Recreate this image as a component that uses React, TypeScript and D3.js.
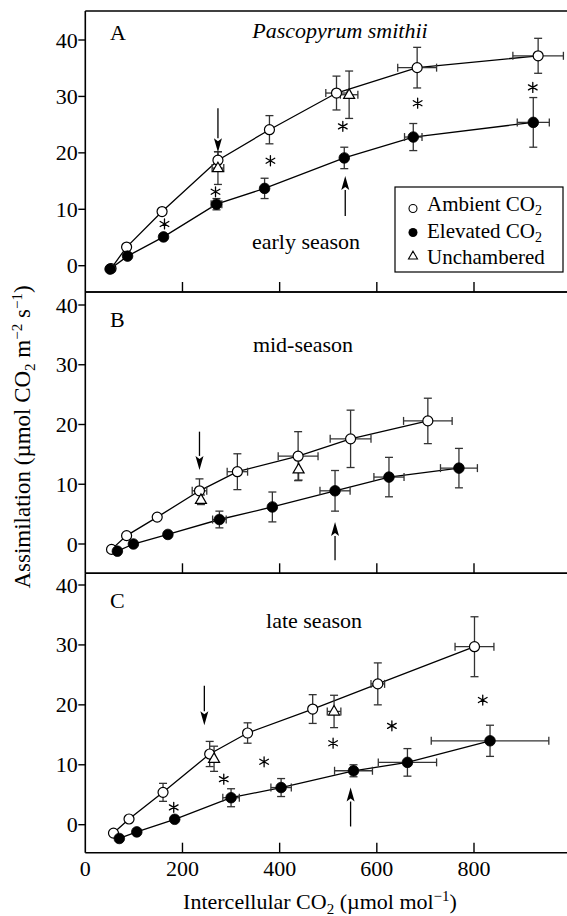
import React from 'react';
import * as d3 from 'd3';

// ---------- data (Ci µmol/mol, A µmol m-2 s-1, sdA, sdCi) ----------
const xTicks = [0, 200, 400, 600, 800];
const yTicks = [0, 10, 20, 30, 40];

const ambientA = [
  [53, -0.5, 0, 0], [85, 3.3, 0, 0], [158, 9.6, 0, 0], [273, 18.7, 1.5, 0],
  [379, 24.1, 2.5, 0], [517, 30.6, 3, 22], [683, 35.1, 3.6, 40], [932, 37.2, 3.1, 52],
];
const elevatedA = [
  [51, -0.6, 0, 0], [87, 1.7, 0, 0], [161, 5.1, 0, 0], [270, 10.9, 1, 11],
  [369, 13.7, 1.8, 0], [533, 19.1, 1.9, 0], [675, 22.8, 2.4, 18], [922, 25.4, 4.4, 33],
];
const unchamberedA = [[273, 17.3, 2.9, 12], [543, 30.3, 4.2, 18]];
const starsA = [[163, 7.4], [268, 13.1], [381, 18.6], [530, 24.7], [684, 28.8], [921, 31.6]];
const arrowsA = [[273, 27.9, 20.1], [535, 8.8, 15.9]];

const ambientB = [
  [54, -0.9, 0, 0], [85, 1.4, 0, 0], [148, 4.5, 0, 0], [235, 8.9, 2, 15],
  [313, 12.1, 3, 21], [438, 14.7, 4.1, 41], [546, 17.6, 4.8, 42], [705, 20.6, 3.8, 50],
];
const elevatedB = [
  [66, -1.2, 0, 0], [99, 0, 0, 0], [170, 1.6, 0, 0], [276, 4.1, 1.4, 14],
  [385, 6.2, 2.5, 0], [514, 8.9, 3.4, 31], [625, 11.2, 3.3, 31], [769, 12.7, 3.3, 38],
];
const unchamberedB = [[238, 7.4, 0.8, 0], [439, 12.5, 1.8, 0]];
const starsB: number[][] = [];
const arrowsB = [[235, 18.8, 12.4], [514, -2.7, 3.7]];

const ambientC = [
  [58, -1.4, 0, 0], [90, 0.95, 0, 0], [160, 5.4, 1.5, 0], [256, 11.8, 2.1, 0],
  [334, 15.3, 1.7, 0], [468, 19.3, 2.4, 0], [602, 23.5, 3.5, 14], [801, 29.7, 5, 40],
];
const elevatedC = [
  [70, -2.3, 0, 0], [106, -1.2, 0, 0], [184, 0.9, 0, 0], [300, 4.5, 1.5, 17],
  [403, 6.2, 1.5, 21], [552, 9.0, 1, 39], [663, 10.4, 2.3, 60], [833, 14.0, 2.6, 121],
];
const unchamberedC = [[265, 11.0, 2.1, 0], [512, 18.9, 2.7, 14]];
const starsC = [[182, 2.9], [285, 7.6], [368, 10.5], [510, 13.6], [631, 16.5], [818, 20.8]];
const arrowsC = [[245, 23.2, 16.6], [546, -0.3, 6.2]];

// ---------- layout ----------
const W = 567;
const H = 916;
const FONT = "'Liberation Serif', 'Times New Roman', Times, serif";
const axisX = 85.3;
const x = d3.scaleLinear().domain([0, 800]).range([axisX, 474]);

const panels = [
  { label: 'A', season: 'early season', seasonPos: [306, 249], labelY: 40, top: 11, bottom: 292, y0: 265.7, y40: 40,
    amb: ambientA, elev: elevatedA, unch: unchamberedA, stars: starsA, arrows: arrowsA },
  { label: 'B', season: 'mid-season', seasonPos: [303, 352], labelY: 326.5, top: 292, bottom: 573.3, y0: 544, y40: 305,
    amb: ambientB, elev: elevatedB, unch: unchamberedB, stars: starsB, arrows: arrowsB },
  { label: 'C', season: 'late season', seasonPos: [314, 628], labelY: 608, top: 573.3, bottom: 852.7, y0: 824.7, y40: 585,
    amb: ambientC, elev: elevatedC, unch: unchamberedC, stars: starsC, arrows: arrowsC },
];

const triPath = (cx: number, cy: number, s: number) => {
  const h = s * 0.866;
  return `M${cx},${cy - h * 0.62}L${cx + s / 2},${cy + h * 0.38}L${cx - s / 2},${cy + h * 0.38}Z`;
};

const starPath = (cx: number, cy: number, r: number) =>
  [90, 30, 150]
    .map((a) => {
      const dx = r * Math.cos((a * Math.PI) / 180);
      const dy = r * Math.sin((a * Math.PI) / 180);
      return `M${cx - dx},${cy - dy}L${cx + dx},${cy + dy}`;
    })
    .join('');

const ErrBars = ({ pts, y }: { pts: number[][]; y: any }) => (
  <g stroke="#333" strokeWidth={1.3} fill="none">
    {pts.map((p, i) => {
      const cx = x(p[0]);
      const cy = y(p[1]);
      const out: any[] = [];
      if (p[2] > 0) {
        const yt = y(p[1] + p[2]);
        const yb = y(p[1] - p[2]);
        out.push(<line key="v" x1={cx} x2={cx} y1={yt} y2={yb} />);
        out.push(<line key="vt" x1={cx - 4} x2={cx + 4} y1={yt} y2={yt} />);
        out.push(<line key="vb" x1={cx - 4} x2={cx + 4} y1={yb} y2={yb} />);
      }
      if (p[3] > 0) {
        const xl = x(p[0] - p[3]);
        const xr = x(p[0] + p[3]);
        out.push(<line key="h" x1={xl} x2={xr} y1={cy} y2={cy} />);
        out.push(<line key="hl" x1={xl} x2={xl} y1={cy - 4} y2={cy + 4} />);
        out.push(<line key="hr" x1={xr} x2={xr} y1={cy - 4} y2={cy + 4} />);
      }
      return <g key={i}>{out}</g>;
    })}
  </g>
);

const Panel = ({ p }: { p: any }) => {
  const y = d3.scaleLinear().domain([0, 40]).range([p.y0, p.y40]);
  const line = d3.line<number[]>().x((d) => x(d[0])).y((d) => y(d[1]));
  return (
    <g>
      {/* frame */}
      <g stroke="#000" strokeWidth={1.6}>
        <line x1={axisX} x2={W} y1={p.top} y2={p.top} />
        <line x1={axisX} x2={W} y1={p.bottom} y2={p.bottom} />
        <line x1={axisX} x2={axisX} y1={p.top} y2={p.bottom} />
      </g>
      {/* y ticks */}
      {yTicks.map((t) => (
        <g key={t}>
          <line x1={axisX - 7} x2={axisX} y1={y(t)} y2={y(t)} stroke="#000" strokeWidth={1.4} />
          <text x={axisX - 7.5} y={y(t) + 7.5} textAnchor="end" fontSize={22} fontFamily={FONT}>{t}</text>
        </g>
      ))}
      {/* x ticks (inside, pointing up) */}
      {xTicks.filter((t) => t > 0).map((t) => (
        <line key={t} x1={x(t)} x2={x(t)} y1={p.bottom} y2={p.bottom - 10} stroke="#000" strokeWidth={1.4} />
      ))}
      <text x={110} y={p.labelY} fontSize={22} fontFamily={FONT}>{p.label}</text>
      <text x={p.seasonPos[0]} y={p.seasonPos[1]} textAnchor="middle" fontSize={22} fontFamily={FONT}>{p.season}</text>

      {/* ambient */}
      <path d={line(p.amb) || ''} fill="none" stroke="#000" strokeWidth={1.3} />
      <ErrBars pts={p.amb} y={y} />
      {/* elevated */}
      <path d={line(p.elev) || ''} fill="none" stroke="#000" strokeWidth={1.3} />
      <ErrBars pts={p.elev} y={y} />
      <ErrBars pts={p.unch} y={y} />

      {p.amb.map((d: number[], i: number) => (
        <circle key={'a' + i} cx={x(d[0])} cy={y(d[1])} r={5} fill="#fff" stroke="#000" strokeWidth={1.2} />
      ))}
      {p.unch.map((d: number[], i: number) => (
        <path key={'u' + i} d={triPath(x(d[0]), y(d[1]), 11)} fill="#fff" stroke="#000" strokeWidth={1.2} />
      ))}
      {p.elev.map((d: number[], i: number) => (
        <circle key={'e' + i} cx={x(d[0])} cy={y(d[1])} r={5.3} fill="#000" stroke="#000" strokeWidth={0.8} />
      ))}

      {/* significance asterisks */}
      {p.stars.map((d: number[], i: number) => (
        <path key={'s' + i} d={starPath(x(d[0]), y(d[1]), 5)} stroke="#000" strokeWidth={1.3} strokeLinecap="round" fill="none" />
      ))}

      {/* arrows: [ci, from, tip] */}
      {p.arrows.map((a: number[], i: number) => {
        const ax = x(a[0]);
        const yf = y(a[1]);
        const yt = y(a[2]);
        const dir = yt > yf ? 1 : -1;
        const hl = 14;
        return (
          <g key={'ar' + i}>
            <line x1={ax} x2={ax} y1={yf} y2={yt - dir * hl} stroke="#000" strokeWidth={1.3} />
            <path d={`M${ax},${yt}L${ax - 4},${yt - dir * hl}L${ax},${yt - dir * (hl - 3)}L${ax + 4},${yt - dir * hl}Z`} fill="#000" />
          </g>
        );
      })}
    </g>
  );
};

export default function App() {
  return (
    <svg width={W} height={H} viewBox={`0 0 ${W} ${H}`} style={{ position: 'absolute', left: 0, top: 0, background: '#fff' }}>
      <rect x={0} y={0} width={W} height={H} fill="#fff" />
      {panels.map((p) => <Panel key={p.label} p={p} />)}

      <text x={340} y={38} textAnchor="middle" fontSize={22} fontStyle="italic" fontFamily={FONT}>Pascopyrum smithii</text>

      {/* legend */}
      <rect x={395} y={187} width={168} height={85} fill="#fff" stroke="#000" strokeWidth={1.2} />
      <circle cx={413} cy={208.5} r={4} fill="#fff" stroke="#000" strokeWidth={1.1} />
      <circle cx={413} cy={232.5} r={4.5} fill="#000" />
      <path d={triPath(413, 256, 9)} fill="#fff" stroke="#000" strokeWidth={1.1} />
      <text x={427} y={211} fontSize={21} fontFamily={FONT}>
        <tspan>Ambient CO</tspan><tspan dy={4} fontSize={14}>2</tspan>
      </text>
      <text x={427} y={238} fontSize={21} fontFamily={FONT}>
        <tspan>Elevated CO</tspan><tspan dy={4} fontSize={14}>2</tspan>
      </text>
      <text x={427} y={264} fontSize={21} fontFamily={FONT}>Unchambered</text>

      {/* x tick labels */}
      {xTicks.map((t) => (
        <text key={t} x={x(t)} y={876} textAnchor="middle" fontSize={22} fontFamily={FONT}>{t}</text>
      ))}
      {/* x title */}
      <text x={320} y={909} textAnchor="middle" fontSize={22} fontFamily={FONT}>
        <tspan>Intercellular CO</tspan><tspan dy={5} fontSize={15}>2</tspan>
        <tspan dy={-5}> (µmol mol</tspan><tspan dy={-8} fontSize={15}>−1</tspan><tspan dy={8}>)</tspan>
      </text>
      {/* y title */}
      <text transform="translate(29.5,437) rotate(-90)" textAnchor="middle" fontSize={23} fontFamily={FONT}>
        <tspan>Assimilation (µmol CO</tspan><tspan dy={5} fontSize={15}>2</tspan>
        <tspan dy={-5}> m</tspan><tspan dy={-8} fontSize={15}>−2</tspan>
        <tspan dy={8}> s</tspan><tspan dy={-8} fontSize={15}>−1</tspan><tspan dy={8}>)</tspan>
      </text>
    </svg>
  );
}
